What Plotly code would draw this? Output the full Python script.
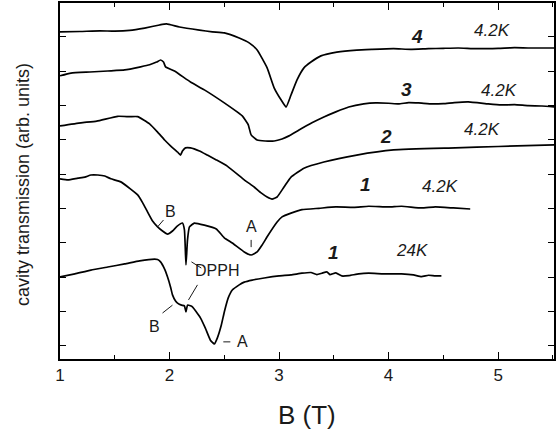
import plotly.graph_objects as go

# ---- data (B in tesla, transmission in arbitrary units) ----
b4 = [1.000, 1.182, 1.364, 1.500, 1.636, 1.773, 1.909, 1.973, 2.091, 2.273, 2.391, 2.500, 2.636, 2.727,
      2.800, 2.891, 2.955, 3.018, 3.064, 3.109, 3.164, 3.227, 3.291, 3.382, 3.527, 3.709, 3.850, 4.045,
      4.200, 4.364, 4.500, 4.636, 4.800, 5.000, 5.150, 5.273, 5.400, 5.518]
t4 = [10.15, 10.16, 10.18, 10.17, 10.19, 10.26, 10.35, 10.38, 10.29, 10.20, 10.15, 10.12, 9.97, 9.83,
      9.62, 9.10, 8.52, 8.17, 7.96, 8.31, 8.75, 9.10, 9.27, 9.45, 9.56, 9.62, 9.64, 9.66,
      9.64, 9.66, 9.67, 9.68, 9.66, 9.67, 9.69, 9.68, 9.68, 9.68]

b3 = [1.000, 1.100, 1.273, 1.436, 1.591, 1.736, 1.818, 1.882, 1.918, 1.945, 1.964, 2.045, 2.191, 2.318,
      2.500, 2.664, 2.718, 2.745, 2.800, 2.873, 2.955, 3.027, 3.091, 3.182, 3.300, 3.409, 3.518, 3.636,
      3.773, 3.882, 4.000, 4.091, 4.182, 4.273, 4.400, 4.500, 4.600, 4.727, 4.909, 5.027, 5.150, 5.273,
      5.400, 5.518]
t3 = [8.87, 8.95, 8.98, 9.01, 9.04, 9.13, 9.19, 9.27, 9.33, 9.27, 9.13, 9.01, 8.69, 8.46,
      8.08, 7.70, 7.45, 7.15, 7.00, 6.97, 6.97, 7.03, 7.12, 7.29, 7.50, 7.67, 7.82, 7.96,
      8.05, 8.08, 8.07, 8.05, 8.09, 8.08, 8.05, 8.06, 8.09, 8.11, 8.05, 8.02, 8.03, 8.00,
      7.99, 7.96]

b2 = [1.000, 1.191, 1.336, 1.527, 1.636, 1.709, 1.818, 1.891, 1.955, 2.009, 2.073, 2.100, 2.118, 2.145,
      2.191, 2.273, 2.345, 2.427, 2.527, 2.682, 2.773, 2.836, 2.891, 2.936, 2.982, 3.045, 3.109, 3.227,
      3.409, 3.709, 4.045, 4.609, 5.000, 5.518]
t2 = [7.41, 7.50, 7.55, 7.69, 7.68, 7.68, 7.47, 7.23, 7.00, 6.83, 6.65, 6.56, 6.68, 6.77,
      6.77, 6.68, 6.56, 6.42, 6.24, 5.84, 5.63, 5.46, 5.34, 5.28, 5.34, 5.63, 5.92, 6.18,
      6.36, 6.56, 6.71, 6.77, 6.81, 6.86]

b1 = [1.000, 1.073, 1.164, 1.227, 1.282, 1.345, 1.409, 1.464, 1.555, 1.645, 1.709, 1.755, 1.800, 1.845,
      1.891, 1.936, 1.982, 2.027, 2.073, 2.118, 2.136, 2.150, 2.164, 2.182, 2.227, 2.318, 2.427, 2.500,
      2.573, 2.682, 2.745, 2.800, 2.845, 2.891, 2.982, 3.027, 3.109, 3.209, 3.364, 3.518, 3.682, 3.818,
      4.000, 4.118, 4.300, 4.427, 4.591, 4.745]
t1 = [5.87, 5.84, 5.89, 5.92, 5.98, 5.98, 5.95, 5.87, 5.78, 5.57, 5.40, 5.17, 4.90, 4.64,
      4.47, 4.35, 4.26, 4.35, 4.50, 4.58, 4.38, 3.36, 4.09, 4.47, 4.58, 4.52, 4.41, 4.15,
      4.00, 3.74, 3.65, 3.74, 3.94, 4.18, 4.61, 4.76, 4.87, 4.97, 5.01, 5.05, 5.04, 5.07,
      5.05, 5.07, 5.02, 5.05, 5.02, 4.99]

b24 = [1.000, 1.136, 1.282, 1.436, 1.591, 1.727, 1.864, 1.891, 1.918, 1.955, 1.982, 2.009, 2.027, 2.055,
       2.073, 2.109, 2.136, 2.150, 2.164, 2.191, 2.209, 2.245, 2.282, 2.327, 2.373, 2.409, 2.436, 2.473,
       2.500, 2.536, 2.573, 2.636, 2.682, 2.755, 2.864, 3.000, 3.109, 3.209, 3.291, 3.345, 3.391, 3.436,
       3.464, 3.518, 3.573, 3.636, 3.727, 3.818, 3.955, 4.118, 4.227, 4.300, 4.364, 4.427, 4.482]
t24 = [3.01, 3.10, 3.21, 3.30, 3.39, 3.48, 3.53, 3.52, 3.45, 3.24, 3.01, 2.72, 2.49, 2.31,
       2.25, 2.19, 2.17, 1.99, 2.19, 2.17, 2.14, 1.99, 1.82, 1.52, 1.17, 1.06, 1.23, 1.61,
       1.99, 2.40, 2.63, 2.78, 2.86, 2.92, 2.98, 3.04, 3.07, 3.12, 3.14, 3.08, 3.12, 3.16,
       3.08, 3.13, 3.04, 3.05, 3.10, 3.12, 3.10, 3.10, 3.07, 3.02, 3.06, 3.04, 3.04]

x_ticks = [1, 2, 3, 4, 5]
y_ticks = [1, 2, 3, 4, 5, 6, 7, 8, 9, 10]

FONT = "Liberation Sans, Arial, Helvetica, sans-serif"
INK = "#1a1a1a"

fig = go.Figure()
for xs, ys in [(b4, t4), (b3, t3), (b2, t2), (b1, t1), (b24, t24)]:
    fig.add_trace(go.Scatter(x=xs, y=ys, mode="lines",
                             line=dict(color="black", width=1.7, shape="spline", smoothing=0.4),
                             showlegend=False, hoverinfo="skip"))

# curve labels
curve_labels = [("4", 4.255, 10.00), ("3", 4.164, 8.46), ("2", 3.973, 7.09), ("1", 3.79, 5.69), ("1", 3.50, 3.71)]
for txt, xx, yy in curve_labels:
    fig.add_annotation(x=xx, y=yy, text="<b><i>%s</i></b>" % txt, showarrow=False,
                       font=dict(family=FONT, size=19, color=INK))
temp_labels = [("4.2K", 4.945, 10.18), ("4.2K", 5.009, 8.43), ("4.2K", 4.855, 7.32),
               ("4.2K", 4.473, 5.66), ("24K", 4.218, 3.77)]
for txt, xx, yy in temp_labels:
    fig.add_annotation(x=xx, y=yy, text="<i>%s</i>" % txt, showarrow=False,
                       font=dict(family=FONT, size=17, color=INK))

# feature labels
feat_labels = [("B", 2.009, 4.93), ("A", 2.745, 4.47), ("DPPH", 2.436, 3.21), ("B", 1.864, 1.58), ("A", 2.664, 1.12)]
for txt, xx, yy in feat_labels:
    fig.add_annotation(x=xx, y=yy, text=txt, showarrow=False,
                       font=dict(family=FONT, size=16, color=INK))

leaders = [(1.891, 4.47, 1.945, 4.67), (2.745, 4.09, 2.745, 3.88), (2.20, 3.45, 2.29, 3.27),
           (2.255, 2.78, 2.173, 2.34), (1.936, 1.96, 2.027, 2.19), (2.491, 1.12, 2.555, 1.12)]
for x0, y0, x1, y1 in leaders:
    fig.add_shape(type="line", x0=x0, y0=y0, x1=x1, y1=y1, line=dict(color=INK, width=1))

# axis titles
fig.add_annotation(xref="paper", yref="paper", x=0.5, y=-0.157, text="B (T)", showarrow=False,
                   font=dict(family=FONT, size=26, color=INK), yanchor="middle")
fig.add_annotation(xref="paper", yref="paper", x=-0.0746, y=0.489, text="cavity transmission (arb. units)",
                   textangle=-90, showarrow=False, font=dict(family=FONT, size=18, color=INK),
                   xanchor="center", yanchor="middle")

fig.update_xaxes(range=[1, 5.51], tickvals=x_ticks, ticks="inside", ticklen=7, tickwidth=1.2,
                 tickcolor="black", showline=True, linecolor="black", linewidth=1.5, mirror="ticks",
                 showgrid=False, zeroline=False, tickfont=dict(family=FONT, size=17, color=INK),
                 minor=dict(dtick=0.5, tick0=1, ticks="inside", ticklen=4, tickcolor="black", showgrid=False))
fig.update_yaxes(range=[0.621, 10.99], tickvals=y_ticks, ticks="inside", ticklen=6, tickwidth=1.2,
                 tickcolor="black", showline=True, linecolor="black", linewidth=1.5, mirror="ticks",
                 showgrid=False, zeroline=False, showticklabels=False)

fig.update_layout(width=557, height=435, margin=dict(l=60, r=1, t=3, b=76),
                  plot_bgcolor="white", paper_bgcolor="white", showlegend=False)

fig.write_html("out.html", config={"displayModeBar": False},
               post_script="document.body.style.margin='0';document.body.style.overflow='hidden';")
